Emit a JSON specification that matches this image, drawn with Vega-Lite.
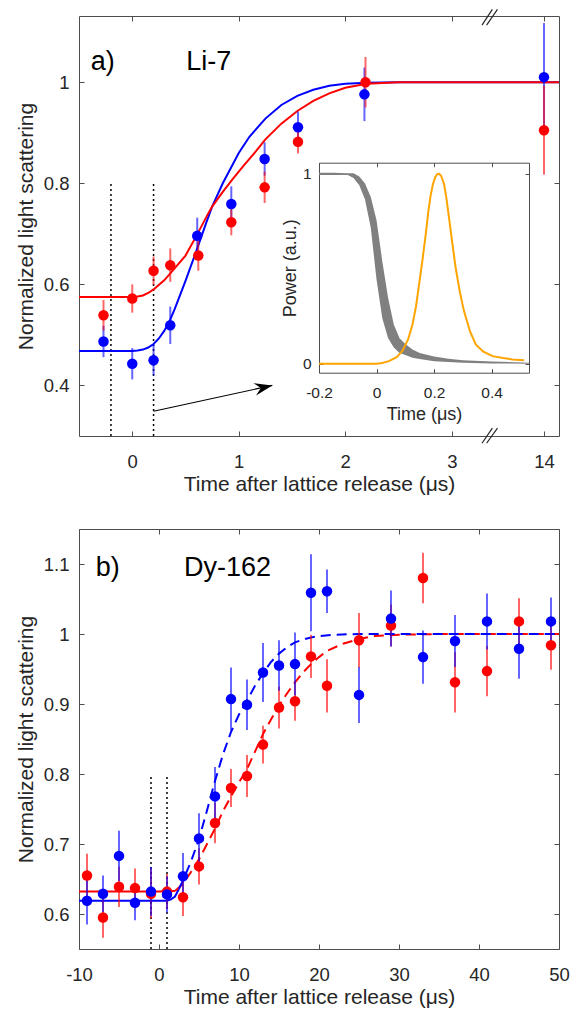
{
  "$schema": "https://vega.github.io/schema/vega-lite/v6.json",
  "background": "white",
  "padding": {"left": 15, "top": 8, "right": 0, "bottom": 0},
  "spacing": 33,
  "config": {
    "font": "Liberation Sans",
    "view": {"stroke": null},
    "axis": {
      "grid": false,
      "domainColor": "#4d4d4d",
      "tickColor": "#4d4d4d",
      "labelColor": "#262626",
      "titleColor": "#262626",
      "labelFont": "Liberation Sans",
      "titleFont": "Liberation Sans",
      "labelFontSize": 18.5,
      "titleFontSize": 21,
      "titleFontWeight": "normal",
      "tickSize": -5,
      "labelFlush": false,
      "labelOverlap": false
    },
    "axisX": {"labelPadding": 21, "titlePadding": 3},
    "axisY": {"labelPadding": 15, "titlePadding": 7}
  },
  "datasets": {
    "ptsA": [
      {"s": "blue", "x": -0.27, "y": 0.487, "lo": 0.456, "hi": 0.518},
      {"s": "blue", "x": 0, "y": 0.443, "lo": 0.412, "hi": 0.474},
      {"s": "blue", "x": 0.2, "y": 0.45, "lo": 0.42, "hi": 0.48},
      {"s": "blue", "x": 0.357, "y": 0.519, "lo": 0.482, "hi": 0.556},
      {"s": "blue", "x": 0.61, "y": 0.696, "lo": 0.66, "hi": 0.732},
      {"s": "blue", "x": 0.93, "y": 0.759, "lo": 0.724, "hi": 0.794},
      {"s": "blue", "x": 1.243, "y": 0.848, "lo": 0.815, "hi": 0.881},
      {"s": "blue", "x": 1.556, "y": 0.911, "lo": 0.88, "hi": 0.942},
      {"s": "blue", "x": 2.18, "y": 0.976, "lo": 0.923, "hi": 1.029},
      {"s": "blue", "x": 14, "y": 1.01, "lo": 0.903, "hi": 1.117},
      {"s": "red", "x": -0.27, "y": 0.539, "lo": 0.509, "hi": 0.569},
      {"s": "red", "x": 0, "y": 0.572, "lo": 0.544, "hi": 0.6},
      {"s": "red", "x": 0.2, "y": 0.627, "lo": 0.599, "hi": 0.655},
      {"s": "red", "x": 0.357, "y": 0.638, "lo": 0.605, "hi": 0.671},
      {"s": "red", "x": 0.62, "y": 0.657, "lo": 0.627, "hi": 0.687},
      {"s": "red", "x": 0.93, "y": 0.723, "lo": 0.697, "hi": 0.749},
      {"s": "red", "x": 1.243, "y": 0.792, "lo": 0.761, "hi": 0.823},
      {"s": "red", "x": 1.556, "y": 0.882, "lo": 0.859, "hi": 0.905},
      {"s": "red", "x": 2.19, "y": 1.0, "lo": 0.95, "hi": 1.05},
      {"s": "red", "x": 14, "y": 0.905, "lo": 0.817, "hi": 0.993}
    ],
    "fitA": [
      {"s": "blue", "x": -0.5, "y": 0.468}, {"s": "blue", "x": 0, "y": 0.468}, {"s": "blue", "x": 0.05, "y": 0.469},
      {"s": "blue", "x": 0.1, "y": 0.471}, {"s": "blue", "x": 0.15, "y": 0.475}, {"s": "blue", "x": 0.2, "y": 0.482},
      {"s": "blue", "x": 0.25, "y": 0.493}, {"s": "blue", "x": 0.3, "y": 0.508}, {"s": "blue", "x": 0.35, "y": 0.527},
      {"s": "blue", "x": 0.4, "y": 0.552}, {"s": "blue", "x": 0.5, "y": 0.607}, {"s": "blue", "x": 0.6, "y": 0.665},
      {"s": "blue", "x": 0.7, "y": 0.725}, {"s": "blue", "x": 0.75, "y": 0.754}, {"s": "blue", "x": 0.85, "y": 0.8},
      {"s": "blue", "x": 1.0, "y": 0.86}, {"s": "blue", "x": 1.1, "y": 0.892}, {"s": "blue", "x": 1.25, "y": 0.928},
      {"s": "blue", "x": 1.4, "y": 0.955}, {"s": "blue", "x": 1.55, "y": 0.973}, {"s": "blue", "x": 1.7, "y": 0.985},
      {"s": "blue", "x": 1.85, "y": 0.993}, {"s": "blue", "x": 2.0, "y": 0.997}, {"s": "blue", "x": 2.2, "y": 0.999},
      {"s": "blue", "x": 2.5, "y": 1.0}, {"s": "blue", "x": 3.343, "y": 1.0}, {"s": "blue", "x": 13.477, "y": 1.0},
      {"s": "blue", "x": 14.141, "y": 1.0},
      {"s": "red", "x": -0.5, "y": 0.575}, {"s": "red", "x": 0, "y": 0.575}, {"s": "red", "x": 0.05, "y": 0.576},
      {"s": "red", "x": 0.1, "y": 0.578}, {"s": "red", "x": 0.15, "y": 0.583}, {"s": "red", "x": 0.2, "y": 0.59},
      {"s": "red", "x": 0.3, "y": 0.608}, {"s": "red", "x": 0.4, "y": 0.632}, {"s": "red", "x": 0.5, "y": 0.657},
      {"s": "red", "x": 0.6, "y": 0.695}, {"s": "red", "x": 0.7, "y": 0.735}, {"s": "red", "x": 0.75, "y": 0.754},
      {"s": "red", "x": 0.85, "y": 0.783}, {"s": "red", "x": 0.95, "y": 0.81}, {"s": "red", "x": 1.05, "y": 0.836},
      {"s": "red", "x": 1.16, "y": 0.863}, {"s": "red", "x": 1.25, "y": 0.887}, {"s": "red", "x": 1.4, "y": 0.918},
      {"s": "red", "x": 1.55, "y": 0.943}, {"s": "red", "x": 1.7, "y": 0.963}, {"s": "red", "x": 1.85, "y": 0.978},
      {"s": "red", "x": 2.0, "y": 0.989}, {"s": "red", "x": 2.2, "y": 0.997}, {"s": "red", "x": 2.5, "y": 1.0},
      {"s": "red", "x": 3.343, "y": 1.0}, {"s": "red", "x": 13.477, "y": 1.0}, {"s": "red", "x": 14.141, "y": 1.0}
    ],
    "vlinesA": [{"x": -0.2, "ylo": 0.3, "yhi": 0.8}, {"x": 0.2, "ylo": 0.3, "yhi": 0.8}],
    "breaksA": [
      {"x": 3.284, "y": 1.113, "x2": 13.515, "y2": 1.144},
      {"x": 3.327, "y": 1.113, "x2": 13.563, "y2": 1.144},
      {"x": 3.284, "y": 0.2857, "x2": 13.515, "y2": 0.3155},
      {"x": 3.327, "y": 0.2857, "x2": 13.563, "y2": 0.3155}
    ],
    "arrowA": [{"x": 0.2, "y": 0.349, "x2": 1.315, "y2": 0.4}],
    "labelsA": [{"x": -0.39, "y": 1.025, "label": "a)"}, {"x": 0.507, "y": 1.025, "label": "Li-7"}],
    "band": [
      {"t": -0.2, "lo": 0.993, "hi": 1.005}, {"t": -0.15, "lo": 0.993, "hi": 1.005}, {"t": -0.1, "lo": 0.993, "hi": 1.003},
      {"t": -0.08, "lo": 0.977, "hi": 1.002}, {"t": -0.06, "lo": 0.94, "hi": 0.986}, {"t": -0.04, "lo": 0.865, "hi": 0.948},
      {"t": -0.02, "lo": 0.716, "hi": 0.878}, {"t": 0, "lo": 0.443, "hi": 0.755}, {"t": 0.02, "lo": 0.239, "hi": 0.54},
      {"t": 0.04, "lo": 0.136, "hi": 0.349}, {"t": 0.06, "lo": 0.085, "hi": 0.206}, {"t": 0.08, "lo": 0.057, "hi": 0.134},
      {"t": 0.1, "lo": 0.046, "hi": 0.104}, {"t": 0.125, "lo": 0.032, "hi": 0.075}, {"t": 0.15, "lo": 0.025, "hi": 0.057},
      {"t": 0.2, "lo": 0.013, "hi": 0.038}, {"t": 0.25, "lo": 0.009, "hi": 0.027}, {"t": 0.3, "lo": 0.005, "hi": 0.019},
      {"t": 0.4, "lo": 0.002, "hi": 0.012}, {"t": 0.53, "lo": 0.0, "hi": 0.006}
    ],
    "orange": [
      {"t": -0.2, "p": 0}, {"t": 0.0, "p": 0}, {"t": 0.02, "p": 0.004}, {"t": 0.043, "p": 0.014}, {"t": 0.07, "p": 0.035},
      {"t": 0.09, "p": 0.067}, {"t": 0.11, "p": 0.13}, {"t": 0.125, "p": 0.207}, {"t": 0.137, "p": 0.3}, {"t": 0.148, "p": 0.418},
      {"t": 0.16, "p": 0.55}, {"t": 0.171, "p": 0.681}, {"t": 0.18, "p": 0.8}, {"t": 0.188, "p": 0.885}, {"t": 0.196, "p": 0.945},
      {"t": 0.204, "p": 0.982}, {"t": 0.211, "p": 0.998}, {"t": 0.218, "p": 1.0}, {"t": 0.225, "p": 0.988},
      {"t": 0.235, "p": 0.944}, {"t": 0.243, "p": 0.87}, {"t": 0.252, "p": 0.768}, {"t": 0.263, "p": 0.64}, {"t": 0.275, "p": 0.505},
      {"t": 0.29, "p": 0.375}, {"t": 0.304, "p": 0.277}, {"t": 0.325, "p": 0.17}, {"t": 0.345, "p": 0.102}, {"t": 0.37, "p": 0.065},
      {"t": 0.403, "p": 0.04}, {"t": 0.44, "p": 0.03}, {"t": 0.472, "p": 0.023}, {"t": 0.513, "p": 0.018}
    ],
    "ptsB": [
      {"s": "red", "x": -9, "y": 0.655, "lo": 0.624, "hi": 0.686},
      {"s": "red", "x": -7, "y": 0.595, "lo": 0.566, "hi": 0.624},
      {"s": "red", "x": -5, "y": 0.639, "lo": 0.61, "hi": 0.668},
      {"s": "red", "x": -3, "y": 0.637, "lo": 0.609, "hi": 0.665},
      {"s": "red", "x": -1, "y": 0.629, "lo": 0.594, "hi": 0.664},
      {"s": "red", "x": 1, "y": 0.632, "lo": 0.607, "hi": 0.657},
      {"s": "red", "x": 3, "y": 0.624, "lo": 0.597, "hi": 0.651},
      {"s": "red", "x": 5, "y": 0.668, "lo": 0.642, "hi": 0.694},
      {"s": "red", "x": 7, "y": 0.73, "lo": 0.701, "hi": 0.759},
      {"s": "red", "x": 9, "y": 0.78, "lo": 0.753, "hi": 0.807},
      {"s": "red", "x": 11, "y": 0.797, "lo": 0.767, "hi": 0.827},
      {"s": "red", "x": 13, "y": 0.842, "lo": 0.815, "hi": 0.869},
      {"s": "red", "x": 15, "y": 0.895, "lo": 0.865, "hi": 0.925},
      {"s": "red", "x": 17, "y": 0.904, "lo": 0.876, "hi": 0.932},
      {"s": "red", "x": 19, "y": 0.968, "lo": 0.937, "hi": 0.999},
      {"s": "red", "x": 21, "y": 0.926, "lo": 0.888, "hi": 0.964},
      {"s": "red", "x": 25, "y": 0.991, "lo": 0.952, "hi": 1.03},
      {"s": "red", "x": 29, "y": 1.012, "lo": 0.982, "hi": 1.042},
      {"s": "red", "x": 33, "y": 1.08, "lo": 1.044, "hi": 1.116},
      {"s": "red", "x": 37, "y": 0.931, "lo": 0.888, "hi": 0.974},
      {"s": "red", "x": 41, "y": 0.947, "lo": 0.911, "hi": 0.983},
      {"s": "red", "x": 45, "y": 1.018, "lo": 0.985, "hi": 1.051},
      {"s": "red", "x": 49, "y": 0.984, "lo": 0.949, "hi": 1.019},
      {"s": "blue", "x": -9, "y": 0.619, "lo": 0.585, "hi": 0.653},
      {"s": "blue", "x": -7, "y": 0.629, "lo": 0.603, "hi": 0.655},
      {"s": "blue", "x": -5, "y": 0.683, "lo": 0.647, "hi": 0.719},
      {"s": "blue", "x": -3, "y": 0.616, "lo": 0.591, "hi": 0.641},
      {"s": "blue", "x": -1, "y": 0.632, "lo": 0.597, "hi": 0.667},
      {"s": "blue", "x": 1, "y": 0.628, "lo": 0.602, "hi": 0.654},
      {"s": "blue", "x": 3, "y": 0.654, "lo": 0.621, "hi": 0.687},
      {"s": "blue", "x": 5, "y": 0.708, "lo": 0.672, "hi": 0.744},
      {"s": "blue", "x": 7, "y": 0.768, "lo": 0.726, "hi": 0.81},
      {"s": "blue", "x": 9, "y": 0.907, "lo": 0.862, "hi": 0.952},
      {"s": "blue", "x": 11, "y": 0.899, "lo": 0.863, "hi": 0.935},
      {"s": "blue", "x": 13, "y": 0.945, "lo": 0.903, "hi": 0.987},
      {"s": "blue", "x": 15, "y": 0.955, "lo": 0.919, "hi": 0.991},
      {"s": "blue", "x": 17, "y": 0.957, "lo": 0.912, "hi": 1.002},
      {"s": "blue", "x": 19, "y": 1.059, "lo": 1.004, "hi": 1.114},
      {"s": "blue", "x": 21, "y": 1.061, "lo": 1.03, "hi": 1.092},
      {"s": "blue", "x": 25, "y": 0.913, "lo": 0.873, "hi": 0.953},
      {"s": "blue", "x": 29, "y": 1.022, "lo": 0.982, "hi": 1.062},
      {"s": "blue", "x": 33, "y": 0.967, "lo": 0.929, "hi": 1.005},
      {"s": "blue", "x": 37, "y": 0.99, "lo": 0.953, "hi": 1.027},
      {"s": "blue", "x": 41, "y": 1.018, "lo": 0.978, "hi": 1.058},
      {"s": "blue", "x": 45, "y": 0.979, "lo": 0.936, "hi": 1.022},
      {"s": "blue", "x": 49, "y": 1.018, "lo": 0.984, "hi": 1.052}
    ],
    "fitBsolid": [
      {"s": "red", "x": -10, "y": 0.632}, {"s": "red", "x": 0, "y": 0.632}, {"s": "red", "x": 2, "y": 0.633},
      {"s": "blue", "x": -10, "y": 0.619}, {"s": "blue", "x": 0, "y": 0.619}, {"s": "blue", "x": 1, "y": 0.619},
      {"s": "blue", "x": 1.5, "y": 0.621}, {"s": "blue", "x": 2, "y": 0.625}, {"s": "blue", "x": 2.5, "y": 0.636}
    ],
    "fitBdash": [
      {"s": "red", "x": 2, "y": 0.633}, {"s": "red", "x": 3, "y": 0.643}, {"s": "red", "x": 4, "y": 0.66},
      {"s": "red", "x": 5, "y": 0.678}, {"s": "red", "x": 6, "y": 0.7}, {"s": "red", "x": 7, "y": 0.722},
      {"s": "red", "x": 8, "y": 0.747}, {"s": "red", "x": 9, "y": 0.768}, {"s": "red", "x": 10, "y": 0.788},
      {"s": "red", "x": 11, "y": 0.807}, {"s": "red", "x": 12, "y": 0.832}, {"s": "red", "x": 13, "y": 0.857},
      {"s": "red", "x": 14, "y": 0.878}, {"s": "red", "x": 15, "y": 0.898}, {"s": "red", "x": 16, "y": 0.915},
      {"s": "red", "x": 17, "y": 0.931}, {"s": "red", "x": 18, "y": 0.945}, {"s": "red", "x": 19, "y": 0.957},
      {"s": "red", "x": 20, "y": 0.967}, {"s": "red", "x": 21, "y": 0.976}, {"s": "red", "x": 23, "y": 0.986},
      {"s": "red", "x": 25, "y": 0.993}, {"s": "red", "x": 27, "y": 0.997}, {"s": "red", "x": 30, "y": 0.999},
      {"s": "red", "x": 35, "y": 1.0}, {"s": "red", "x": 50, "y": 1.0},
      {"s": "blue", "x": 2.5, "y": 0.636}, {"s": "blue", "x": 3, "y": 0.648}, {"s": "blue", "x": 4, "y": 0.675},
      {"s": "blue", "x": 5, "y": 0.707}, {"s": "blue", "x": 6, "y": 0.748}, {"s": "blue", "x": 7, "y": 0.79},
      {"s": "blue", "x": 8, "y": 0.828}, {"s": "blue", "x": 9, "y": 0.86}, {"s": "blue", "x": 10, "y": 0.885},
      {"s": "blue", "x": 11, "y": 0.905}, {"s": "blue", "x": 12, "y": 0.926}, {"s": "blue", "x": 13, "y": 0.944},
      {"s": "blue", "x": 14, "y": 0.96}, {"s": "blue", "x": 15, "y": 0.972}, {"s": "blue", "x": 16, "y": 0.981},
      {"s": "blue", "x": 17, "y": 0.988}, {"s": "blue", "x": 18, "y": 0.992}, {"s": "blue", "x": 19, "y": 0.995},
      {"s": "blue", "x": 20, "y": 0.997}, {"s": "blue", "x": 22, "y": 0.999}, {"s": "blue", "x": 25, "y": 1.0},
      {"s": "blue", "x": 50, "y": 1.0}
    ],
    "vlinesB": [{"x": -1, "ylo": 0.55, "yhi": 0.8}, {"x": 1, "ylo": 0.55, "yhi": 0.8}],
    "labelsB": [{"x": -7.9, "y": 1.083, "label": "b)"}, {"x": 3.12, "y": 1.083, "label": "Dy-162"}]
  },
  "vconcat": [
    {
      "width": 480,
      "height": 420,
      "resolve": {"scale": {"x": "independent", "y": "independent"}},
      "layer": [
        {
          "layer": [
            {
              "data": {"name": "vlinesA"},
              "mark": {"type": "rule", "color": "black", "strokeDash": [2, 3], "strokeWidth": 1.5},
              "encoding": {
                "x": {"field": "x", "type": "quantitative", "scale": {"domain": [-0.5, 3.343, 13.477, 14.141], "range": [0, 409.3, 409.3, 480], "nice": false, "zero": false},
                  "axis": {"orient": "bottom", "values": [0, 1, 2, 3, 14], "title": "Time after lattice release (μs)", "format": "~g"}},
                "y": {"field": "ylo", "type": "quantitative", "scale": {"domain": [0.3, 1.131], "nice": false, "zero": false},
                  "axis": {"orient": "left", "values": [0.4, 0.6, 0.8, 1], "title": "Normalized light scattering", "format": "~g"}},
                "y2": {"field": "yhi"}
              }
            },
            {
              "data": {"name": "vlinesA"},
              "mark": {"type": "rule", "opacity": 0},
              "encoding": {
                "x": {"field": "x", "type": "quantitative", "scale": {"domain": [-0.5, 3.343, 13.477, 14.141], "range": [0, 409.3, 409.3, 480], "nice": false, "zero": false},
                  "axis": {"orient": "top", "values": [0, 1, 2, 3, 14], "labels": false, "title": null}},
                "y": {"field": "ylo", "type": "quantitative", "scale": {"domain": [0.3, 1.131], "nice": false, "zero": false},
                  "axis": {"orient": "right", "values": [0.4, 0.6, 0.8, 1], "labels": false, "title": null}},
                "y2": {"field": "yhi"}
              }
            },
            {
              "data": {"name": "fitA"},
              "transform": [{"filter": "datum.s == 'blue'"}],
              "mark": {"type": "line", "color": "#0000ff", "strokeWidth": 2},
              "encoding": {
                "x": {"field": "x", "type": "quantitative", "axis": null},
                "y": {"field": "y", "type": "quantitative", "axis": null}
              }
            },
            {
              "data": {"name": "fitA"},
              "transform": [{"filter": "datum.s == 'red'"}],
              "mark": {"type": "line", "color": "#ff0000", "strokeWidth": 2},
              "encoding": {
                "x": {"field": "x", "type": "quantitative", "axis": null},
                "y": {"field": "y", "type": "quantitative", "axis": null}
              }
            },
            {
              "data": {"name": "ptsA"},
              "mark": {"type": "rule", "strokeWidth": 2, "opacity": 0.6},
              "encoding": {
                "x": {"field": "x", "type": "quantitative", "axis": null},
                "y": {"field": "lo", "type": "quantitative", "axis": null},
                "y2": {"field": "hi"},
                "color": {"field": "s", "type": "nominal", "scale": {"domain": ["red", "blue"], "range": ["#ff0000", "#0000ff"]}, "legend": null}
              }
            },
            {
              "data": {"name": "ptsA"},
              "mark": {"type": "circle", "size": 110, "opacity": 1},
              "encoding": {
                "x": {"field": "x", "type": "quantitative", "axis": null},
                "y": {"field": "y", "type": "quantitative", "axis": null},
                "color": {"field": "s", "type": "nominal", "scale": {"domain": ["red", "blue"], "range": ["#ff0000", "#0000ff"]}, "legend": null}
              }
            },
            {
              "data": {"name": "arrowA"},
              "mark": {"type": "rule", "color": "black", "strokeWidth": 1.2},
              "encoding": {
                "x": {"field": "x", "type": "quantitative", "axis": null},
                "y": {"field": "y", "type": "quantitative", "axis": null},
                "x2": {"field": "x2"},
                "y2": {"field": "y2"}
              }
            },
            {
              "data": {"name": "arrowA"},
              "mark": {"type": "point", "shape": "M0,0 L-2,-0.7 L-1.3,0 L-2,0.7 Z", "filled": true, "size": 324, "angle": -12.26, "color": "black", "opacity": 1},
              "encoding": {
                "x": {"field": "x2", "type": "quantitative", "axis": null},
                "y": {"field": "y2", "type": "quantitative", "axis": null}
              }
            },
            {
              "data": {"name": "breaksA"},
              "mark": {"type": "rule", "color": "#262626", "strokeWidth": 1.2},
              "encoding": {
                "x": {"field": "x", "type": "quantitative", "axis": null},
                "y": {"field": "y", "type": "quantitative", "axis": null},
                "x2": {"field": "x2"},
                "y2": {"field": "y2"}
              }
            },
            {
              "data": {"name": "labelsA"},
              "mark": {"type": "text", "align": "left", "baseline": "alphabetic", "fontSize": 27, "color": "black", "font": "Liberation Sans"},
              "encoding": {
                "x": {"field": "x", "type": "quantitative", "axis": null},
                "y": {"field": "y", "type": "quantitative", "axis": null},
                "text": {"field": "label"}
              }
            }
          ]
        },
        {
          "layer": [
            {
              "data": {"name": "band"},
              "mark": {"type": "area", "color": "#808080", "opacity": 1},
              "encoding": {
                "x": {"field": "t", "type": "quantitative", "scale": {"domain": [-0.2, 0.53], "range": [240, 450], "nice": false, "zero": false},
                  "axis": {"orient": "bottom", "offset": -63.3, "values": [-0.2, 0, 0.2, 0.4], "title": "Time (μs)", "labelFontSize": 15.5, "titleFontSize": 18, "labelPadding": 17, "titlePadding": 4, "tickSize": -4,
                    "labelExpr": "datum.value < 0 ? '-' + format(-datum.value, '~g') : format(datum.value, '~g')"}},
                "y": {"field": "lo", "type": "quantitative", "scale": {"domain": [-0.047, 1.058], "range": [356.7, 146.7], "nice": false, "zero": false},
                  "axis": {"orient": "left", "offset": -240, "values": [0, 1], "title": "Power (a.u.)", "labelFontSize": 15.5, "titleFontSize": 18, "labelPadding": 12, "titlePadding": 3, "tickSize": -4, "format": "~g"}},
                "y2": {"field": "hi"}
              }
            },
            {
              "data": {"name": "orange"},
              "mark": {"type": "line", "color": "#ffa500", "strokeWidth": 2},
              "encoding": {
                "x": {"field": "t", "type": "quantitative", "axis": null},
                "y": {"field": "p", "type": "quantitative", "axis": null}
              }
            },
            {
              "data": {"name": "orange"},
              "mark": {"type": "line", "opacity": 0},
              "encoding": {
                "x": {"field": "t", "type": "quantitative",
                  "axis": {"orient": "top", "offset": -146.7, "values": [-0.2, 0, 0.2, 0.4], "labels": false, "title": null, "tickSize": -4}},
                "y": {"field": "p", "type": "quantitative",
                  "axis": {"orient": "right", "offset": -30, "values": [0, 1], "labels": false, "title": null, "tickSize": -4}}
              }
            }
          ]
        }
      ]
    },
    {
      "width": 480,
      "height": 420,
      "layer": [
        {
          "data": {"name": "vlinesB"},
          "mark": {"type": "rule", "color": "black", "strokeDash": [2, 3], "strokeWidth": 1.5},
          "encoding": {
            "x": {"field": "x", "type": "quantitative", "scale": {"domain": [-10, 50], "nice": false, "zero": false},
              "axis": {"orient": "bottom", "values": [-10, 0, 10, 20, 30, 40, 50], "title": "Time after lattice release (μs)",
                "labelExpr": "datum.value < 0 ? '-' + format(-datum.value, '~g') : format(datum.value, '~g')"}},
            "y": {"field": "ylo", "type": "quantitative", "scale": {"domain": [0.55, 1.15], "nice": false, "zero": false},
              "axis": {"orient": "left", "values": [0.6, 0.7, 0.8, 0.9, 1, 1.1], "title": "Normalized light scattering", "format": "~g"}},
            "y2": {"field": "yhi"}
          }
        },
        {
          "data": {"name": "vlinesB"},
          "mark": {"type": "rule", "opacity": 0},
          "encoding": {
            "x": {"field": "x", "type": "quantitative", "scale": {"domain": [-10, 50], "nice": false, "zero": false},
              "axis": {"orient": "top", "values": [-10, 0, 10, 20, 30, 40, 50], "labels": false, "title": null}},
            "y": {"field": "ylo", "type": "quantitative", "scale": {"domain": [0.55, 1.15], "nice": false, "zero": false},
              "axis": {"orient": "right", "values": [0.6, 0.7, 0.8, 0.9, 1, 1.1], "labels": false, "title": null}},
            "y2": {"field": "yhi"}
          }
        },
        {
          "data": {"name": "fitBsolid"},
          "mark": {"type": "line", "strokeWidth": 2},
          "encoding": {
            "x": {"field": "x", "type": "quantitative", "axis": null},
            "y": {"field": "y", "type": "quantitative", "axis": null},
            "color": {"field": "s", "type": "nominal", "scale": {"domain": ["red", "blue"], "range": ["#ff0000", "#0000ff"]}, "legend": null}
          }
        },
        {
          "data": {"name": "fitBdash"},
          "mark": {"type": "line", "strokeWidth": 2, "strokeDash": [10, 6]},
          "encoding": {
            "x": {"field": "x", "type": "quantitative", "axis": null},
            "y": {"field": "y", "type": "quantitative", "axis": null},
            "color": {"field": "s", "type": "nominal", "scale": {"domain": ["red", "blue"], "range": ["#ff0000", "#0000ff"]}, "legend": null}
          }
        },
        {
          "data": {"name": "ptsB"},
          "mark": {"type": "rule", "strokeWidth": 2, "opacity": 0.6},
          "encoding": {
            "x": {"field": "x", "type": "quantitative", "axis": null},
            "y": {"field": "lo", "type": "quantitative", "axis": null},
            "y2": {"field": "hi"},
            "color": {"field": "s", "type": "nominal", "scale": {"domain": ["red", "blue"], "range": ["#ff0000", "#0000ff"]}, "legend": null}
          }
        },
        {
          "data": {"name": "ptsB"},
          "mark": {"type": "circle", "size": 110, "opacity": 1},
          "encoding": {
            "x": {"field": "x", "type": "quantitative", "axis": null},
            "y": {"field": "y", "type": "quantitative", "axis": null},
            "color": {"field": "s", "type": "nominal", "scale": {"domain": ["red", "blue"], "range": ["#ff0000", "#0000ff"]}, "legend": null}
          }
        },
        {
          "data": {"name": "labelsB"},
          "mark": {"type": "text", "align": "left", "baseline": "alphabetic", "fontSize": 27, "color": "black", "font": "Liberation Sans"},
          "encoding": {
            "x": {"field": "x", "type": "quantitative", "axis": null},
            "y": {"field": "y", "type": "quantitative", "axis": null},
            "text": {"field": "label"}
          }
        }
      ]
    }
  ]
}
